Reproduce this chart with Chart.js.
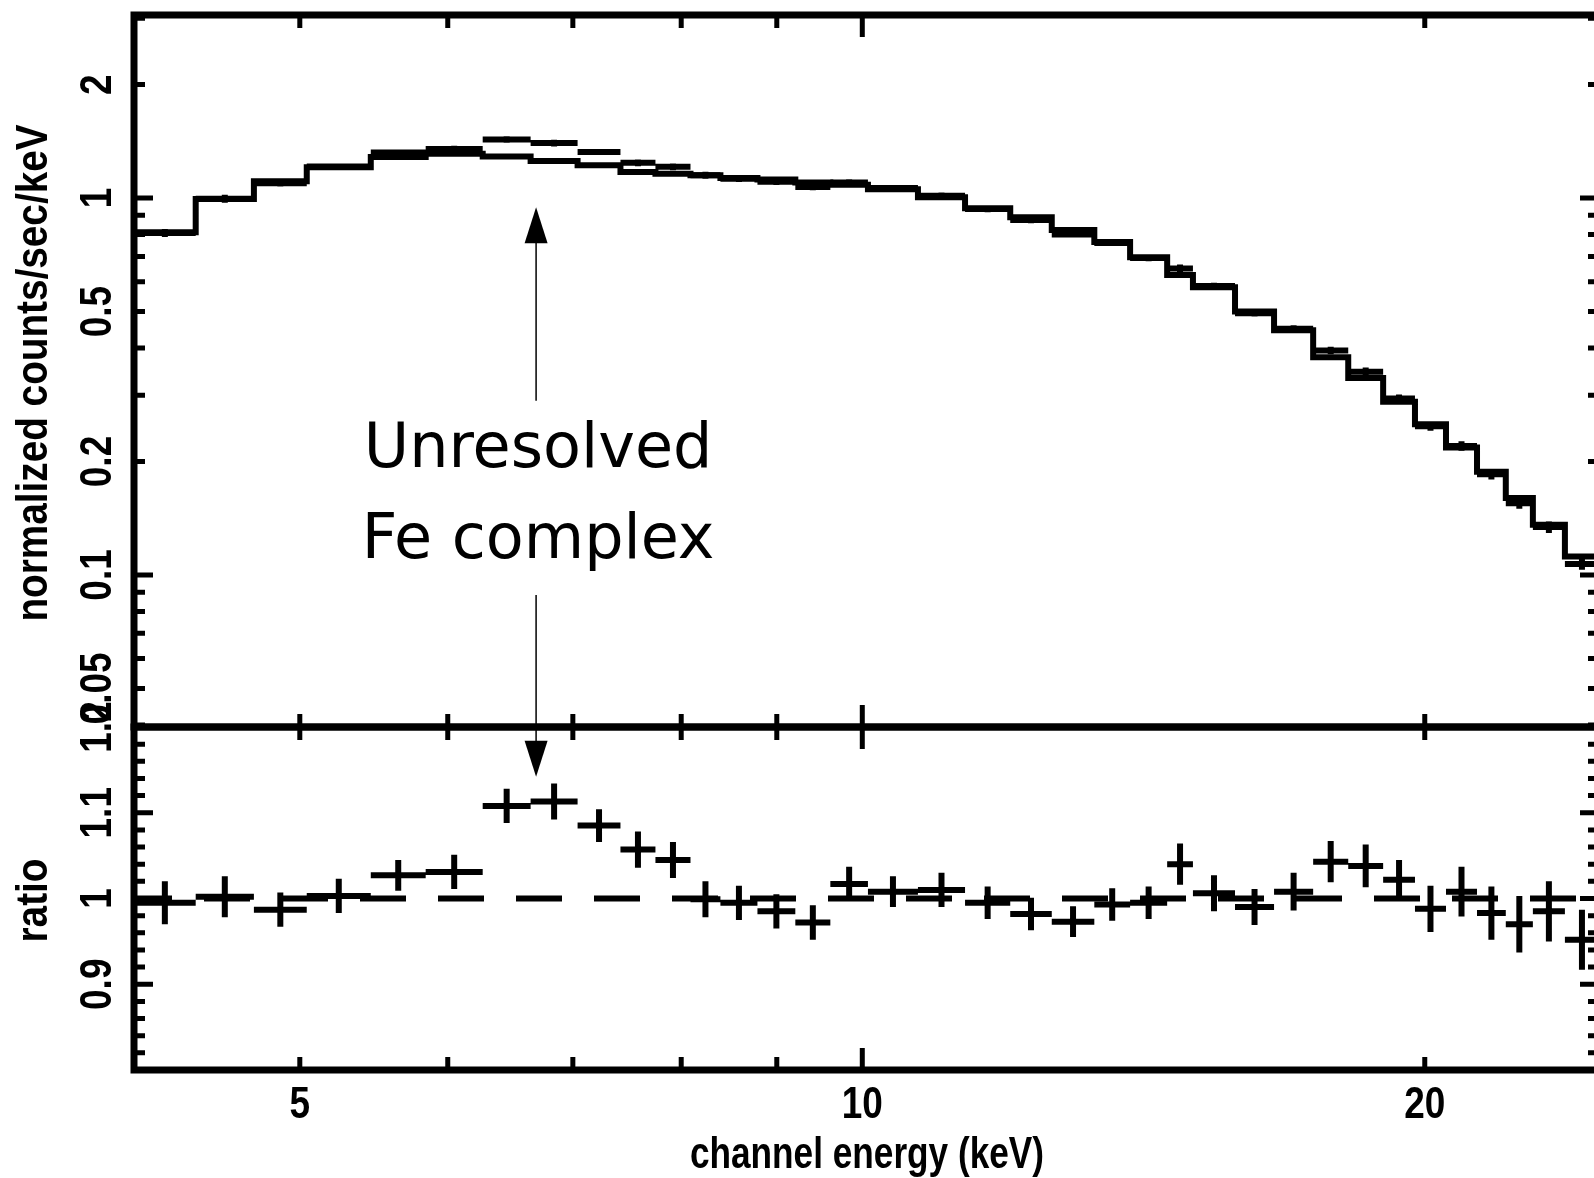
<!DOCTYPE html>
<html>
<head>
<meta charset="utf-8">
<title>Unresolved Fe complex</title>
<script src="https://cdn.jsdelivr.net/npm/chart.js@4.4.1/dist/chart.umd.min.js"></script>
<style>
  html, body { margin: 0; padding: 0; background: #fff; overflow: hidden; }
  #wrap { position: relative; width: 1594px; height: 1178px; overflow: hidden; }
  canvas { position: absolute; left: 0; top: 0; }
</style>
</head>
<body>
<div id="wrap">
  <canvas id="spec" width="1640" height="1178"></canvas>
  <canvas id="ratio" width="1640" height="1178"></canvas>
</div>
<script>
// channel bin edges (keV), 36 bins
const binEdges = [4.076, 4.398, 4.725, 5.043, 5.457, 5.839, 6.264, 6.645, 7.041, 7.423, 7.750, 8.092,
  8.396, 8.788, 9.208, 9.614, 10.07, 10.71, 11.35, 12.00, 12.63, 13.31, 13.91, 14.56, 15.03, 15.83,
  16.61, 17.43, 18.20, 19.00, 19.76, 20.53, 21.33, 22.10, 22.85, 23.77, 24.79];

// folded model, normalized counts/sec/keV
const modelCounts = [0.812, 0.994, 1.109, 1.208, 1.285, 1.31, 1.29, 1.255, 1.222, 1.172, 1.16, 1.15,
  1.13, 1.12, 1.10, 1.085, 1.056, 1.005, 0.94, 0.89, 0.823, 0.765, 0.697, 0.625, 0.58, 0.50,
  0.446, 0.378, 0.333, 0.288, 0.251, 0.218, 0.188, 0.160, 0.136, 0.112];

// data, normalized counts/sec/keV
const dataCounts = [0.808, 0.996, 1.095, 1.212, 1.32, 1.35, 1.43, 1.40, 1.325, 1.24, 1.21, 1.15,
  1.125, 1.105, 1.07, 1.10, 1.064, 1.015, 0.935, 0.874, 0.80, 0.76, 0.693, 0.65, 0.584, 0.495,
  0.45, 0.394, 0.346, 0.294, 0.248, 0.22, 0.185, 0.155, 0.134, 0.107];
const dataErr = [0.020, 0.024, 0.022, 0.024, 0.024, 0.027, 0.029, 0.029, 0.025, 0.026, 0.025, 0.024,
  0.022, 0.022, 0.021, 0.022, 0.019, 0.020, 0.018, 0.017, 0.014, 0.014, 0.013, 0.016, 0.012, 0.010,
  0.010, 0.009, 0.009, 0.007, 0.0067, 0.0064, 0.0057, 0.0051, 0.0047, 0.0037];

// data / model
const ratioVals = [0.995, 1.002, 0.987, 1.003, 1.027, 1.031, 1.108, 1.113, 1.085, 1.057, 1.045, 0.999,
  0.995, 0.985, 0.972, 1.017, 1.008, 1.01, 0.995, 0.982, 0.973, 0.993, 0.995, 1.04, 1.006, 0.99,
  1.008, 1.043, 1.038, 1.022, 0.988, 1.008, 0.983, 0.97, 0.985, 0.952];
const ratioErr = [0.025, 0.024, 0.02, 0.02, 0.018, 0.02, 0.02, 0.021, 0.019, 0.021, 0.021, 0.021,
  0.02, 0.02, 0.02, 0.02, 0.018, 0.02, 0.019, 0.019, 0.018, 0.019, 0.019, 0.024, 0.021, 0.021,
  0.022, 0.024, 0.025, 0.023, 0.027, 0.029, 0.031, 0.033, 0.035, 0.035];

// tick labels
const energyLabels = [5, 10, 20];
const countLabels = [0.05, 0.1, 0.2, 0.5, 1, 2];
const ratioLabels = [0.9, 1, 1.1, 1.2];

// tick marks [value, length]
const energyTicks = [[5, 13], [6, 13], [7, 13], [8, 13], [9, 13], [10, 22], [20, 13]];
const countTicks = [];
[0.04, 0.05, 0.06, 0.07, 0.08, 0.09, 0.2, 0.3, 0.4, 0.5, 0.6, 0.7, 0.8, 0.9, 2, 3].forEach(v => countTicks.push([v, 11]));
countTicks.push([0.1, 19], [1, 19]);
const ratioTicks = [];
for (let i = 41; i < 60; i++) {
  ratioTicks.push([i / 50, i % 5 === 0 ? 19 : 11]);
}

const X_MIN = 4.076, X_MAX = 24.79;
const TICK_FONT = 'bold 44px "Liberation Sans", sans-serif';
const TITLE_FONT = 'bold 44px "Liberation Sans", sans-serif';

function stepPoints(edges, vals) {
  const pts = vals.map((v, i) => ({x: edges[i], y: v}));
  pts.push({x: edges[edges.length - 1], y: vals[vals.length - 1]});
  return pts;
}

function crossPoints(edges, vals, errs) {
  const pts = [];
  vals.forEach((v, i) => {
    const lo = edges[i], hi = edges[i + 1], mid = Math.sqrt(lo * hi);
    pts.push({x: lo, y: v}, {x: hi, y: v}, {x: hi, y: null});
    pts.push({x: mid, y: v - errs[i]}, {x: mid, y: v + errs[i]}, {x: mid, y: null});
  });
  return pts;
}

// condensed text, like the PGPLOT bitmap font
function squeezeText(ctx, text, x, y, font, k, rotate) {
  ctx.save();
  ctx.translate(x, y);
  if (rotate) ctx.rotate(-Math.PI / 2);
  ctx.scale(k, 1);
  ctx.font = font;
  ctx.textAlign = 'center';
  ctx.textBaseline = 'middle';
  ctx.fillText(text, 0, 0);
  ctx.restore();
}

// frame with inward ticks
const frameBox = {
  id: 'frameBox',
  afterDraw(chart, args, opts) {
    const {ctx, chartArea: a, scales} = chart;
    ctx.save();
    ctx.strokeStyle = '#000';
    ctx.fillStyle = '#000';
    ctx.lineCap = 'butt';
    ctx.lineWidth = 5;
    ctx.beginPath();
    opts.xTicks.forEach(([v, len]) => {
      const px = scales.x.getPixelForValue(v);
      ctx.moveTo(px, a.top); ctx.lineTo(px, a.top + len);
      ctx.moveTo(px, a.bottom); ctx.lineTo(px, a.bottom - len);
    });
    opts.yTicks.forEach(([v, len]) => {
      const py = scales.y.getPixelForValue(v);
      ctx.moveTo(a.left, py); ctx.lineTo(a.left + len, py);
      ctx.moveTo(a.right, py); ctx.lineTo(a.right - len, py);
    });
    ctx.stroke();
    ctx.lineWidth = 7;
    ctx.strokeRect(a.left, a.top, a.right - a.left, a.bottom - a.top);

    opts.yLabels.forEach(v => {
      squeezeText(ctx, String(v), 99, scales.y.getPixelForValue(v), TICK_FONT, 0.84, true);
    });
    squeezeText(ctx, opts.yTitle, 35, (a.top + a.bottom) / 2 + 2, TITLE_FONT, 0.88, true);

    if (opts.xLabels) {
      opts.xLabels.forEach(v => {
        squeezeText(ctx, String(v), scales.x.getPixelForValue(v), 1106, TICK_FONT, 0.84, false);
      });
      squeezeText(ctx, opts.xTitle, 867, 1156, TITLE_FONT, 0.8, false);
    }
    ctx.restore();
  }
};

// arrows + text pointing at the Fe line
const feNote = {
  id: 'feNote',
  afterDraw(chart) {
    const top = specChart.scales, bot = chart.scales;
    const ctx = chart.ctx;
    const x = top.x.getPixelForValue(6.69);
    const head = (tipY, dir) => {
      ctx.beginPath();
      ctx.moveTo(x, tipY);
      ctx.lineTo(x - 11.5, tipY + dir * 36);
      ctx.lineTo(x + 11.5, tipY + dir * 36);
      ctx.closePath();
      ctx.fill();
    };
    ctx.save();
    ctx.strokeStyle = '#000';
    ctx.fillStyle = '#000';
    ctx.lineWidth = 1.5;
    const t1 = top.y.getPixelForValue(0.945);
    const s1 = top.y.getPixelForValue(0.29);
    ctx.beginPath(); ctx.moveTo(x, s1); ctx.lineTo(x, t1 + 30); ctx.stroke();
    head(t1, 1);
    const s2 = top.y.getPixelForValue(0.0885);
    const t2 = bot.y.getPixelForValue(1.142);
    ctx.beginPath(); ctx.moveTo(x, s2); ctx.lineTo(x, t2 - 30); ctx.stroke();
    head(t2, -1);
    ctx.font = '62px "DejaVu Sans", sans-serif';
    ctx.textAlign = 'center';
    ctx.textBaseline = 'middle';
    ctx.fillText('Unresolved', x + 2, top.y.getPixelForValue(0.2133));
    ctx.fillText('Fe complex', x + 2, top.y.getPixelForValue(0.1224));
    ctx.restore();
  }
};

const lineStyle = {
  borderColor: '#000',
  borderWidth: 6,
  pointRadius: 0,
  borderCapStyle: 'butt',
  spanGaps: false,
  tension: 0
};

const specChart = new Chart(document.getElementById('spec'), {
  type: 'line',
  data: {
    datasets: [
      Object.assign({label: 'model', data: stepPoints(binEdges, modelCounts), stepped: 'before'}, lineStyle),
      Object.assign({label: 'data', data: crossPoints(binEdges, dataCounts, dataErr)}, lineStyle)
    ]
  },
  options: {
    responsive: false,
    animation: false,
    events: [],
    layout: {padding: {left: 134, top: 15, right: 41, bottom: 451}},
    scales: {
      x: {type: 'logarithmic', min: X_MIN, max: X_MAX, display: false},
      y: {type: 'logarithmic', min: 0.0395, max: 3.06, display: false}
    },
    plugins: {
      legend: {display: false},
      tooltip: {enabled: false},
      frameBox: {xTicks: energyTicks, yTicks: countTicks, yLabels: countLabels,
        yTitle: 'normalized counts/sec/keV'}
    }
  },
  plugins: [frameBox]
});

const ratioChart = new Chart(document.getElementById('ratio'), {
  type: 'line',
  data: {
    datasets: [
      Object.assign({}, lineStyle, {label: 'unity', data: [{x: X_MIN, y: 1}, {x: X_MAX, y: 1}],
        borderDash: [46, 32], borderDashOffset: 8}),
      Object.assign({label: 'ratio', data: crossPoints(binEdges, ratioVals, ratioErr)}, lineStyle)
    ]
  },
  options: {
    responsive: false,
    animation: false,
    events: [],
    layout: {padding: {left: 134, top: 727, right: 41, bottom: 108}},
    scales: {
      x: {type: 'logarithmic', min: X_MIN, max: X_MAX, display: false},
      y: {type: 'linear', min: 0.8, max: 1.2, display: false}
    },
    plugins: {
      legend: {display: false},
      tooltip: {enabled: false},
      frameBox: {xTicks: energyTicks, yTicks: ratioTicks, yLabels: ratioLabels, yTitle: 'ratio',
        xLabels: energyLabels, xTitle: 'channel energy (keV)'}
    }
  },
  plugins: [frameBox, feNote]
});
</script>
</body>
</html>
